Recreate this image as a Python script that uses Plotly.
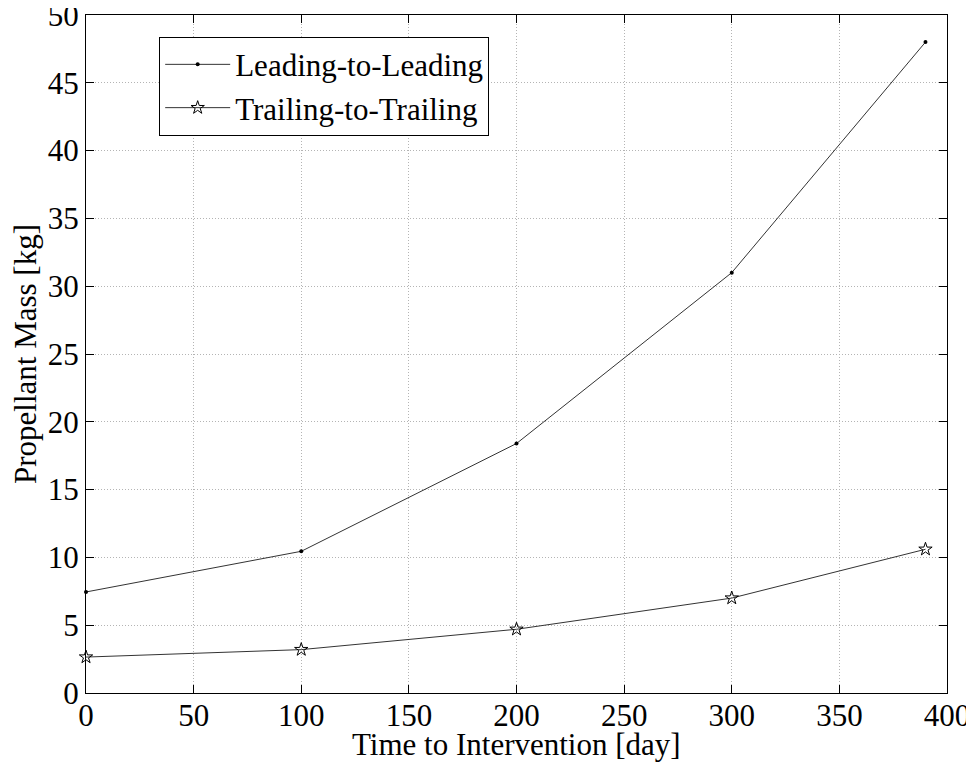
import plotly.graph_objects as go

days = [0, 100, 200, 300, 390]
leading = [7.45, 10.45, 18.4, 31.0, 48.0]
trailing = [2.65, 3.2, 4.7, 7.0, 10.6]
x_ticks = [0, 50, 100, 150, 200, 250, 300, 350, 400]
y_ticks = [0, 5, 10, 15, 20, 25, 30, 35, 40, 45, 50]

FONT = "Liberation Serif, Times New Roman, serif"
FS = 31

fig = go.Figure()
fig.add_trace(go.Scatter(x=days, y=leading, mode="lines+markers", name="Leading-to-Leading",
                         line=dict(color="#333333", width=1),
                         marker=dict(symbol="circle", size=4, color="black"), cliponaxis=False))
fig.add_trace(go.Scatter(x=days, y=trailing, mode="lines+markers", name="Trailing-to-Trailing",
                         line=dict(color="#333333", width=1),
                         marker=dict(symbol="star-open", size=10, color="black", line=dict(width=1)),
                         cliponaxis=False))

axis_common = dict(showline=True, linecolor="black", linewidth=1, mirror="ticks",
                   ticks="inside", ticklen=8, tickcolor="black", automargin=False,
                   ticklabeloverflow="allow",
                   showgrid=True, gridcolor="#b4b4b4", griddash="1px,2px", gridwidth=1,
                   zeroline=False, tickfont=dict(size=FS, color="black", family=FONT))

fig.update_xaxes(range=[0, 400], tickmode="array", tickvals=x_ticks, ticklabelstandoff=-5,
                 **axis_common)
fig.update_yaxes(range=[0, 50], tickmode="array", tickvals=y_ticks,
                 title=dict(text="Propellant Mass [kg]", standoff=12,
                            font=dict(size=FS, color="black", family=FONT)), **axis_common)

fig.add_annotation(text="Time to Intervention [day]", xref="paper", yref="paper",
                   x=0.5, y=0, xanchor="center", yanchor="middle", yshift=-51,
                   showarrow=False, font=dict(size=FS, color="black", family=FONT))

fig.update_layout(
    width=966, height=761,
    margin=dict(l=78, r=27, t=7, b=76),
    plot_bgcolor="white", paper_bgcolor="white",
    font=dict(family=FONT, color="black", size=FS),
    legend=dict(x=0.085, y=0.968, xanchor="left", yanchor="top",
                bordercolor="black", borderwidth=1, bgcolor="white", itemwidth=65,
                font=dict(size=FS, family=FONT, color="black"), tracegroupgap=0),
    showlegend=True,
)

fig.write_html("out.html")
